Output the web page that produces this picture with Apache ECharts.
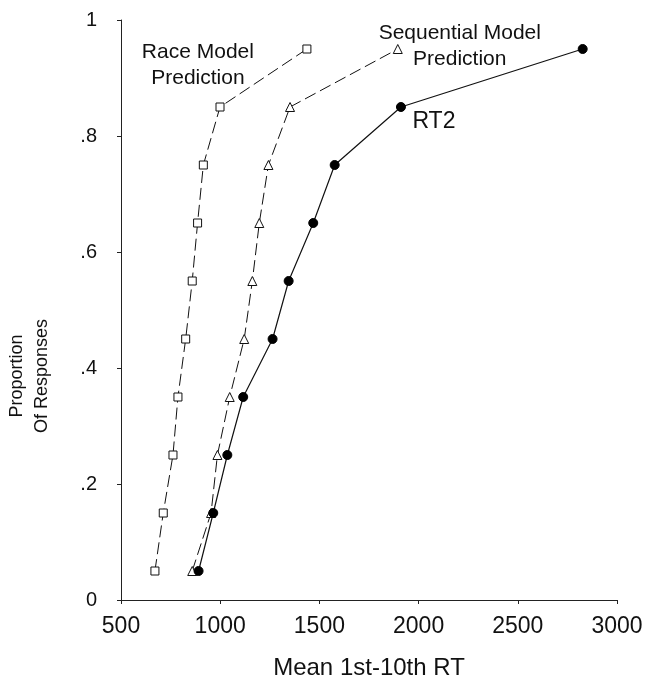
<!DOCTYPE html>
<html>
<head>
<meta charset="utf-8">
<script src="https://cdn.jsdelivr.net/npm/echarts@6/dist/echarts.min.js"></script>
<style>
  html, body { margin: 0; padding: 0; background: #fff; }
  #main { width: 647px; height: 677px; }
</style>
</head>
<body>
<div id="main"></div>
<script>
// proportion of responses (y) for each of the ten RT bins
var proportions = [0.05, 0.15, 0.25, 0.35, 0.45, 0.55, 0.65, 0.75, 0.85, 0.95];
// mean RT values
var raceRT = [671, 713, 762, 787, 826, 859, 886, 915, 999, 1437];
var seqRT = [859, 954, 986, 1048, 1121, 1162, 1197, 1243, 1352, 1895];
var rt2RT = [891, 965, 1036, 1116, 1264, 1345, 1469, 1577, 1911, 2827];
var yTickLabels = ['0', '.2', '.4', '.6', '.8', '1'];

var fontFam = '"Liberation Sans", Arial, Helvetica, sans-serif';

function pairs(xs, labelIdx, labelCfg) {
    var out = [];
    for (var i = 0; i < xs.length; i++) {
        var item = { value: [xs[i], proportions[i]] };
        if (i === labelIdx) {
            item.label = labelCfg;
        }
        out.push(item);
    }
    return out;
}

function noteLabel(text, offset, size) {
    return {
        show: true,
        position: 'inside',
        offset: offset,
        formatter: text,
        color: '#111',
        fontFamily: fontFam,
        fontSize: size,
        lineHeight: 26,
        align: 'center',
        verticalAlign: 'middle'
    };
}

var myChart = echarts.init(document.getElementById('main'));

var option = {
    backgroundColor: '#fff',
    animation: false,
    grid: { left: 121, right: 30, top: 20, bottom: 77, containLabel: false, outerBoundsMode: 'none' },
    xAxis: {
        type: 'value',
        min: 500,
        max: 3000,
        interval: 500,
        name: 'Mean 1st-10th RT',
        nameLocation: 'middle',
        nameGap: 56,
        nameTextStyle: { color: '#111', fontFamily: fontFam, fontSize: 24 },
        axisLine: { lineStyle: { color: '#222', width: 1 } },
        axisTick: { show: true, length: 4, lineStyle: { color: '#222' } },
        axisLabel: {
            color: '#111', fontFamily: fontFam, fontSize: 23, margin: 15,
            formatter: function (v) { return String(v); }
        },
        splitLine: { show: false }
    },
    yAxis: {
        type: 'value',
        min: 0,
        max: 1,
        interval: 0.2,
        name: 'Proportion\nOf Responses',
        nameLocation: 'middle',
        nameRotate: 90,
        nameGap: 66,
        nameTextStyle: {
            color: '#111', fontFamily: fontFam, fontSize: 18, lineHeight: 25,
            align: 'center', padding: [0, 132, 0, 0]
        },
        axisLine: { show: true, lineStyle: { color: '#222', width: 1 } },
        axisTick: { show: true, length: 4, lineStyle: { color: '#222' } },
        axisLabel: {
            color: '#111', fontFamily: fontFam, fontSize: 20, margin: 24,
            formatter: function (v) { return yTickLabels[Math.round(v / 0.2)]; }
        },
        splitLine: { show: false }
    },
    series: [
        {
            name: 'Race Model Prediction',
            type: 'line',
            symbol: 'rect',
            symbolSize: 8,
            itemStyle: { color: '#fff', borderColor: '#111', borderWidth: 1 },
            lineStyle: { color: '#111', width: 1, type: [12, 5] },
            label: { show: false },
            data: pairs(raceRT, 9, noteLabel('Race Model\nPrediction', [-109, 16], 21)),
            z: 3
        },
        {
            name: 'Sequential Model Prediction',
            type: 'line',
            symbol: 'triangle',
            symbolSize: 9,
            itemStyle: { color: '#fff', borderColor: '#111', borderWidth: 1 },
            lineStyle: { color: '#111', width: 1, type: [12, 5] },
            label: { show: false },
            data: pairs(seqRT, 9, noteLabel('Sequential Model\nPrediction', [62, -3], 21)),
            z: 3
        },
        {
            name: 'RT2',
            type: 'line',
            symbol: 'circle',
            symbolSize: 9,
            itemStyle: { color: '#000', borderColor: '#000', borderWidth: 1 },
            lineStyle: { color: '#111', width: 1.2, type: 'solid' },
            label: { show: false },
            data: pairs(rt2RT, 8, noteLabel('RT2', [33, 15], 23)),
            z: 4
        }
    ]
};
myChart.setOption(option);
</script>
</body>
</html>
